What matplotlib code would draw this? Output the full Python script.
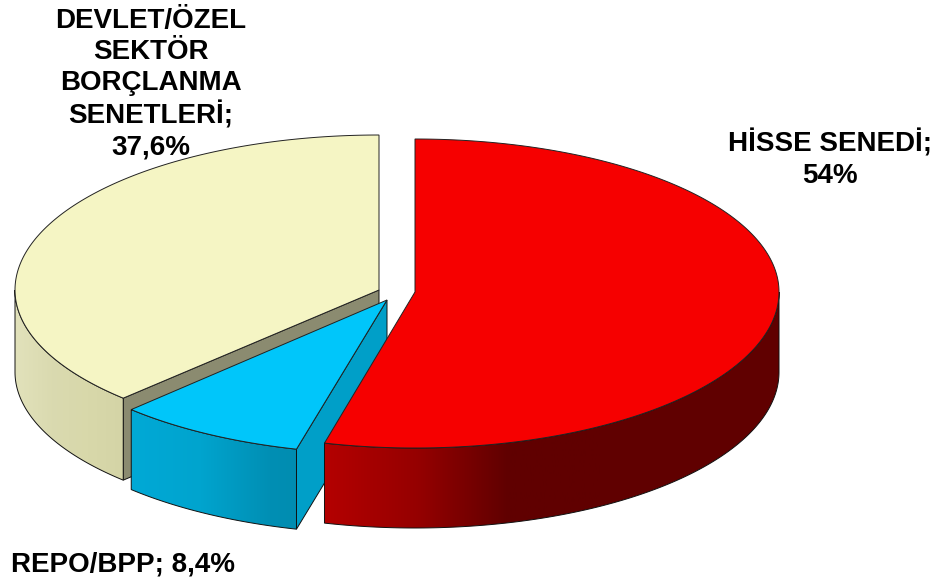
import matplotlib
matplotlib.use("Agg")
import matplotlib.pyplot as plt
from matplotlib.colors import LinearSegmentedColormap
from matplotlib.patches import Polygon
import numpy as np

# data
names = ["HİSSE SENEDİ", "REPO/BPP", "DEVLET/ÖZEL\nSEKTÖR\nBORÇLANMA\nSENETLERİ"]
values = [54, 8.4, 37.6]
value_labels = ["54%", "8,4%", "37,6%"]

# look of each slice
top_colors = ["#f60000", "#00c6fa", "#f5f5c4"]
side_colors = [["#b40000", "#960000", "#600000", "#600000"],
               ["#00a9d6", "#00a4ce", "#008fb4", "#0088ab"],
               ["#e2e2bb", "#dadab0", "#d8d8aa", "#d4d4a6"]]
cut_colors = ["#960000", "#009fc8", "#8b8b70"]
centers = [(415, 292), (387, 300), (379, 290)]
rx = 364
ry_back = [153, 153, 155]
ry_front = [156, 154, 152]
depth = [80, 80, 82]
grad_x = [(324, 600), (131, 340), (15, 124)]

plt.rcParams["font.family"] = ["Liberation Sans", "DejaVu Sans"]
fig = plt.figure(figsize=(9.42, 5.85), dpi=100)
ax = fig.add_axes([0, 0, 1, 1])


def rim(i, a):
    cx, cy = centers[i]
    ry = np.where(np.cos(a) > 0, ry_back[i], ry_front[i])
    return np.column_stack([cx + rx * np.sin(a), cy - ry * np.cos(a)])


edges = np.radians(np.concatenate([[0], np.cumsum(values)]) * 3.6)

# back slice first, red one last
for i in [2, 1, 0]:
    a0, a1 = edges[i], edges[i + 1]
    cx, cy = centers[i]
    d = depth[i]
    z = i * -3

    # cut face going back to the middle
    p = rim(i, np.array([a0]))[0]
    face = [(cx, cy), tuple(p), (p[0], p[1] + d), (cx, cy + d)]
    ax.add_patch(Polygon(face, closed=True, fc=cut_colors[i], ec="#111111", lw=0.7, zorder=z + 1))

    # outer side, only the front half shows
    s0, s1 = max(a0, np.pi / 2), min(a1, 3 * np.pi / 2)
    arc = rim(i, np.linspace(s0, s1, 200))
    side = np.vstack([arc, arc[::-1] + [0, d]])
    sp = Polygon(side, closed=True, fc="none", ec="#111111", lw=0.7, zorder=z + 2.5)
    ax.add_patch(sp)
    cmap = LinearSegmentedColormap.from_list("s" + str(i), side_colors[i])
    xa, xb = grad_x[i]
    g = np.linspace(0, 1, 256).reshape(1, -1)
    im = ax.imshow(g, cmap=cmap, extent=(xa, xb, 585, 0), aspect="auto", zorder=z + 2)
    im.set_clip_path(sp)
    if i == 0:
        # keep the dark tone on to the right edge
        im2 = ax.imshow([[1]], cmap=cmap, vmin=0, vmax=1, extent=(xb, 790, 585, 0), aspect="auto",
                        zorder=z + 2)
        im2.set_clip_path(sp)

    # top face
    arc = rim(i, np.linspace(a0, a1, 300))
    top = np.vstack([[cx, cy], arc])
    ax.add_patch(Polygon(top, closed=True, fc=top_colors[i], ec="#222222", lw=0.7, zorder=z + 3))

# labels
txt = dict(fontsize=20, fontweight="bold", color="black", ha="center", va="center", zorder=10)
ax.text(830, 159, names[0] + ";\n" + value_labels[0], linespacing=1.25, **txt)
ax.text(123, 564, names[1] + "; " + value_labels[1], **txt)
ax.text(151, 84, names[2] + ";\n" + value_labels[2], linespacing=1.25, **txt)

ax.set_xlim(0, 942)
ax.set_ylim(585, 0)
ax.axis("off")
fig.savefig("out.png", dpi=100, facecolor="white")
